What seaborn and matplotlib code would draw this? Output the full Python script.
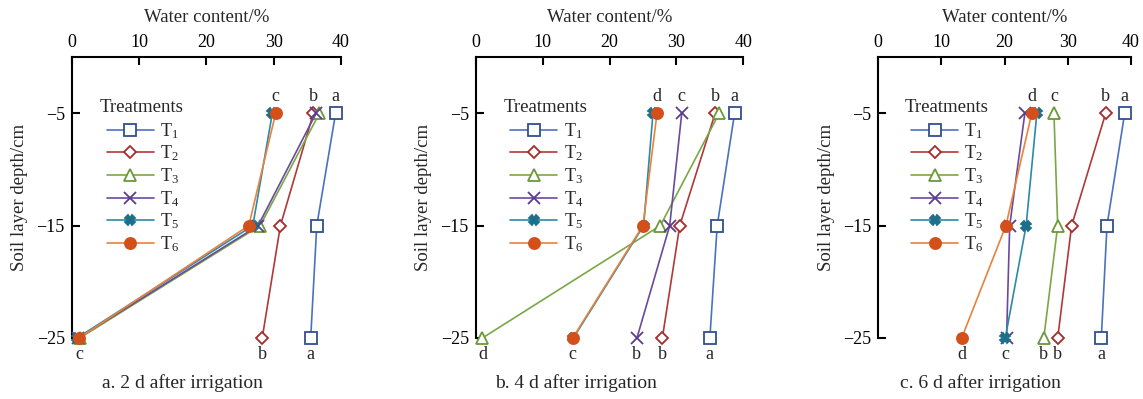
import matplotlib
matplotlib.use("Agg")
import matplotlib.pyplot as plt
import numpy as np
import pandas as pd
import seaborn as sns

# ---------------- data ----------------
depths = [-5, -15, -25]
treatments = ["T1", "T2", "T3", "T4", "T5", "T6"]
legend_labels = [r"T$_\mathrm{1}$", r"T$_\mathrm{2}$", r"T$_\mathrm{3}$",
                 r"T$_\mathrm{4}$", r"T$_\mathrm{5}$", r"T$_\mathrm{6}$"]
panel_titles = ["a. 2 d after irrigation", "b. 4 d after irrigation",
                "c. 6 d after irrigation"]
xticks = [0, 10, 20, 30, 40]
yticks = [-5, -15, -25]
ytick_labels = ["\u22125", "\u221215", "\u221225"]

# water content (%) at -5, -15, -25 cm, one row per treatment T1..T6
wc_2d = [[39.2, 36.4, 35.5],
         [35.9, 31.0, 28.3],
         [36.8, 28.0, 1.2],
         [36.3, 27.7, 1.0],
         [29.8, 26.9, 0.8],
         [30.3, 26.3, 1.1]]
wc_4d = [[38.7, 36.1, 35.0],
         [35.8, 30.5, 27.9],
         [36.4, 27.6, 1.0],
         [30.8, 29.0, 24.1],
         [26.5, 25.1, 14.6],
         [27.1, 25.0, 14.5]]
wc_6d = [[39.0, 36.2, 35.3],
         [36.0, 30.6, 28.4],
         [27.8, 28.4, 26.2],
         [23.2, 20.8, 20.3],
         [25.1, 23.4, 20.1],
         [24.3, 20.2, 13.2]]

# significance letters (treatment they sit next to, letter)
top_letters_2d = [("T6", "c"), ("T2", "b"), ("T1", "a")]
bottom_letters_2d = [("T6", "c"), ("T2", "b"), ("T1", "a")]
top_letters_4d = [("T6", "d"), ("T4", "c"), ("T2", "b"), ("T1", "a")]
bottom_letters_4d = [("T3", "d"), ("T6", "c"), ("T4", "b"), ("T2", "b"), ("T1", "a")]
top_letters_6d = [("T6", "d"), ("T3", "c"), ("T2", "b"), ("T1", "a")]
bottom_letters_6d = [("T6", "d"), ("T5", "c"), ("T3", "b"), ("T2", "b"), ("T1", "a")]

# ---------------- style ----------------
line_colors = ["#4a72c0", "#b03838", "#7aa746", "#6a4a9c", "#2b8aa6", "#e8823c"]
edge_colors = ["#2f4f90", "#a52a2a", "#6a9a38", "#5a3d8c", "#1d6f8c", "#d4501a"]
markers = ["s", "D", "^", "x", "X", "o"]
msizes = [8, 6.5, 9, 8.5, 6.5, 8]
faces = ["white", "white", "white", "none", "fill", "fill"]

sns.set_style("ticks")
plt.rcParams["font.family"] = ["Liberation Serif", "DejaVu Serif"]
plt.rcParams["mathtext.fontset"] = "custom"
plt.rcParams["mathtext.rm"] = "Liberation Serif"
plt.rcParams["mathtext.it"] = "Liberation Serif:italic"
plt.rcParams["axes.unicode_minus"] = True

fig = plt.figure(figsize=(11.43, 3.99), dpi=100)
W, H = 1143.0, 399.0
ax_px = [(71.7, 269.3), (475.7, 267.6), (878.3, 252.7)]
top_px, bot_px = 57.0, 338.0
caption_x = [0.41, 0.373, 0.404]

panels = [
    (wc_2d, top_letters_2d, bottom_letters_2d),
    (wc_4d, top_letters_4d, bottom_letters_4d),
    (wc_6d, top_letters_6d, bottom_letters_6d),
]

for p, (wc, tl, bl) in enumerate(panels):
    left, width = ax_px[p]
    ax = fig.add_axes([left / W, 1 - bot_px / H, width / W, (bot_px - top_px) / H])
    rows = []
    for t, vals in zip(treatments, wc):
        for d, v in zip(depths, vals):
            rows.append({"Treatment": t, "Depth": d, "Water": v})
    df = pd.DataFrame(rows)

    for i, t in enumerate(treatments):
        sub = df[df["Treatment"] == t]
        if faces[i] == "fill":
            mfc = edge_colors[i]
        else:
            mfc = faces[i]
        sns.lineplot(data=sub, x="Water", y="Depth", orient="y", sort=False,
                     estimator=None, ax=ax, color=line_colors[i],
                     marker=markers[i], markersize=msizes[i],
                     markerfacecolor=mfc, markeredgecolor=edge_colors[i],
                     markeredgewidth=1.3, linewidth=1.2,
                     label=legend_labels[i], clip_on=False, zorder=3 + i)

    vals = dict(zip(treatments, wc))
    for t, letter in tl:
        ax.annotate(letter, (vals[t][0], depths[0]), xytext=(0, 12),
                    textcoords="offset points", ha="center", va="center",
                    fontsize=13, annotation_clip=False)
    for t, letter in bl:
        ax.annotate(letter, (vals[t][2], depths[2]), xytext=(0, -12),
                    textcoords="offset points", ha="center", va="center",
                    fontsize=13, annotation_clip=False)

    ax.set_xlim(0, 40)
    ax.set_ylim(-25, 0)
    ax.xaxis.set_ticks_position("top")
    ax.xaxis.set_label_position("top")
    ax.set_xticks(xticks)
    ax.set_yticks(yticks)
    ax.set_yticklabels(ytick_labels)
    ax.tick_params(axis="both", direction="in", length=6, width=1.5,
                   labelsize=13, pad=5, colors="black")
    ax.tick_params(axis="x", pad=4)
    for s in ["bottom", "right"]:
        ax.spines[s].set_visible(False)
    for s in ["top", "left"]:
        ax.spines[s].set_linewidth(1.5)
        ax.spines[s].set_color("black")
    ax.set_xlabel("Water content/%", fontsize=13.5, labelpad=9)
    ax.set_ylabel("Soil layer depth/cm", fontsize=13.5, labelpad=6)
    ax.grid(False)

    ax.legend(loc="upper left", bbox_to_anchor=(0.13, 0.772), frameon=False,
              handlelength=2.6, labelspacing=0.16, borderaxespad=0,
              handletextpad=0.35, fontsize=13, borderpad=0)
    ax.text(0.105, 0.819, "Treatments", transform=ax.transAxes,
            ha="left", va="center", fontsize=13.5)

    ax.text(caption_x[p], -0.16, panel_titles[p], transform=ax.transAxes,
            ha="center", va="center", fontsize=14)

fig.savefig("out.png", dpi=100)
